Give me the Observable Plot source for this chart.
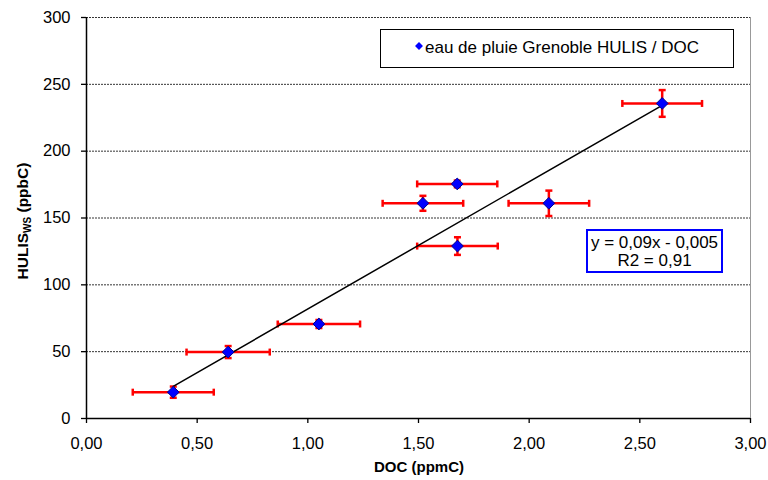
<!DOCTYPE html>
<html><head><meta charset="utf-8">
<script src="https://cdn.jsdelivr.net/npm/d3@7"></script>
<script src="https://cdn.jsdelivr.net/npm/@observablehq/plot@0.6"></script>
<style>body{margin:0;background:#fff}#chart{width:768px;height:480px}</style>
</head><body><div id="chart"></div>
<script>
// DOC (ppmC) and HULIS_ws (ppbC)
const doc      = [0.392, 0.640, 1.050, 1.520, 1.675, 1.676, 2.089, 2.601];
const hulis    = [19.7, 49.7, 70.7, 161.0, 175.5, 129.0, 161.0, 235.7];
const docErr   = [0.183, 0.188, 0.186, 0.182, 0.181, 0.182, 0.182, 0.180];
const hulisErr = [4.2, 4.5, 3.0, 5.6, 2.5, 6.6, 9.5, 10.0];
const xTicks = [0, 0.5, 1, 1.5, 2, 2.5, 3];
const yTicks = [0, 50, 100, 150, 200, 250, 300];
const gridTicks = [50, 100, 150, 200, 250, 300];
const legendLabel = "eau de pluie Grenoble HULIS / DOC";
const eqLines = ["y = 0,09x - 0,005", "R2 = 0,91"];
const xTitle = "DOC (ppmC)";

const data = doc.map((d, i) => ({x: d, y: hulis[i], ex: docErr[i], ey: hulisErr[i]}));
const capV = {draw(c) { c.moveTo(0, -3.5); c.lineTo(0, 3.5); }};
const capH = {draw(c) { c.moveTo(-3.5, 0); c.lineTo(3.5, 0); }};
const FONT = "'Liberation Sans', Arial, sans-serif";

const chart = Plot.plot({
  width: 768, height: 480,
  marginLeft: 86, marginRight: 18, marginTop: 17, marginBottom: 62,
  style: {fontFamily: FONT, fontSize: "16.5px", background: "#fff", color: "#000"},
  x: {domain: [0, 3]},
  y: {domain: [0, 300]},
  marks: [
    Plot.ruleY(gridTicks, {stroke: "#000", strokeWidth: 0.8, strokeDasharray: "2,1"}),
    Plot.ruleX([3], {stroke: "#999", strokeWidth: 1}),
    Plot.axisX({ticks: xTicks, tickFormat: d => d.toFixed(2).replace(".", ","), tickSize: 5, tickPadding: 14, label: null, fontSize: 16.5, strokeWidth: 1.3}),
    Plot.axisY({ticks: yTicks, tickFormat: d => String(d), tickSize: 5, tickPadding: 11, label: null, fontSize: 16.5, strokeWidth: 1.3}),
    Plot.ruleX([0], {stroke: "#000", strokeWidth: 1.5}),
    Plot.ruleY([0], {stroke: "#000", strokeWidth: 1.5}),
    Plot.link(data, {x1: d => d.x - d.ex, x2: d => d.x + d.ex, y1: "y", y2: "y", stroke: "#ff0000", strokeWidth: 2.5}),
    Plot.ruleX(data, {x: "x", y1: d => d.y - d.ey, y2: d => d.y + d.ey, stroke: "#ff0000", strokeWidth: 2.5}),
    Plot.dot(data, {x: d => d.x - d.ex, y: "y", symbol: capV, r: 3, fill: "none", stroke: "#ff0000", strokeWidth: 2.5}),
    Plot.dot(data, {x: d => d.x + d.ex, y: "y", symbol: capV, r: 3, fill: "none", stroke: "#ff0000", strokeWidth: 2.5}),
    Plot.dot(data, {x: "x", y: d => d.y - d.ey, symbol: capH, r: 3, fill: "none", stroke: "#ff0000", strokeWidth: 2.5}),
    Plot.dot(data, {x: "x", y: d => d.y + d.ey, symbol: capH, r: 3, fill: "none", stroke: "#ff0000", strokeWidth: 2.5}),
    Plot.linearRegressionY(data, {x: "x", y: "y", ci: 0, stroke: "#000", strokeWidth: 1.5}),
    Plot.dot(data, {x: "x", y: "y", symbol: "diamond2", r: 5.3, fill: "#0000ff", stroke: "#00008b", strokeWidth: 1})
  ]
});

const svg = d3.select(chart);
// legend box
const lg = svg.append("g").attr("text-anchor", "start");
lg.append("rect").attr("x", 380.5).attr("y", 29.5).attr("width", 353).attr("height", 38)
  .attr("fill", "#fff").attr("stroke", "#000").attr("stroke-width", 1);
lg.append("path").attr("d", d3.symbol(d3.symbolDiamond2, 40)())
  .attr("transform", "translate(419,46)").attr("fill", "#0000ff");
lg.append("text").attr("x", 425).attr("y", 53).attr("text-anchor", "start").attr("font-size", 17).attr("font-family", FONT)
  .attr("fill", "#000").text(legendLabel);
// equation box
const eq = svg.append("g");
eq.append("rect").attr("x", 587).attr("y", 230).attr("width", 135).attr("height", 42)
  .attr("fill", "#fff").attr("stroke", "#0000ff").attr("stroke-width", 2);
eqLines.forEach((t, i) => {
  eq.append("text").attr("x", 654.5).attr("y", 248 + i * 18).attr("text-anchor", "middle")
    .attr("font-size", 17).attr("font-family", FONT).attr("fill", "#000").text(t);
});
// x title
svg.append("text").attr("x", 419).attr("y", 472).attr("text-anchor", "middle")
  .attr("font-size", 15).attr("font-weight", "bold").attr("font-family", FONT).text(xTitle);
// y title with subscript
const yt = svg.append("text").attr("transform", "translate(28,221) rotate(-90)")
  .attr("text-anchor", "middle").attr("font-size", 15.5).attr("font-weight", "bold").attr("font-family", FONT);
yt.append("tspan").text("HULIS");
yt.append("tspan").attr("font-size", 10).attr("dy", 3).text("WS");
yt.append("tspan").attr("dy", -3).text(" (ppbC)");

document.getElementById("chart").appendChild(chart);
</script>
</body></html>
